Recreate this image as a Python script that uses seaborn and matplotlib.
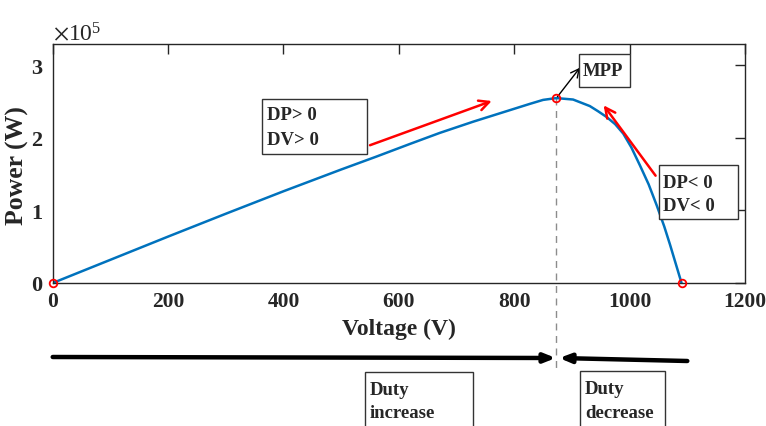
import matplotlib
matplotlib.use("Agg")
import matplotlib.pyplot as plt
from matplotlib.patches import Rectangle
from matplotlib.ticker import ScalarFormatter
import seaborn as sns

# P-V characteristic of the PV array
voltage = [0, 100, 200, 300, 400, 500, 560, 620, 671, 729, 787, 827, 850, 873,
           902, 931, 945, 960, 975, 989, 1003, 1018, 1033, 1047, 1060, 1070, 1090]
power = [0, 0.32e5, 0.64e5, 0.955e5, 1.265e5, 1.565e5, 1.74e5, 1.92e5, 2.07e5,
         2.225e5, 2.37e5, 2.47e5, 2.525e5, 2.55e5, 2.53e5, 2.44e5, 2.37e5,
         2.29e5, 2.19e5, 2.06e5, 1.87e5, 1.62e5, 1.36e5, 1.07e5, 0.78e5,
         0.53e5, 0]

# marked operating points: short circuit, maximum power point, open circuit
mark_v = [0, 873, 1090]
mark_p = [0, 2.55e5, 0]

x_ticks = [0, 200, 400, 600, 800, 1000, 1200]
y_ticks = [0, 1e5, 2e5, 3e5]

sns.set_theme(style="white")
serif = ["Liberation Serif", "DejaVu Serif"]
plt.rcParams["font.family"] = serif
plt.rcParams["mathtext.fontset"] = "stix"

W, H = 766, 427
fig = plt.figure(figsize=(W / 100, H / 100), dpi=100)
ax = fig.add_axes([52.7 / W, 1 - 284 / H, (745 - 52.7) / W, (284 - 44.7) / H])

sns.lineplot(x=voltage, y=power, ax=ax, color="#0072BD", linewidth=1.8,
             estimator=None, sort=False)
ax.plot(mark_v, mark_p, linestyle="none", marker="o", markersize=5.5,
        markerfacecolor="none", markeredgecolor="red", markeredgewidth=1.3,
        clip_on=False, zorder=5)

ax.set_xlim(0, 1200)
ax.set_ylim(0, 3.3e5)
ax.set_xticks(x_ticks)
ax.set_yticks(y_ticks)

fmt = ScalarFormatter(useMathText=True)
fmt.set_powerlimits((0, 0))
ax.yaxis.set_major_formatter(fmt)
ax.yaxis.get_offset_text().set_fontsize(17)
ax.yaxis.get_offset_text().set_x(0.0)

ax.tick_params(direction="in", length=7, width=1, top=True, right=True,
               color="#262626")
ax.tick_params(axis="x", labelsize=15.5, pad=6)
ax.tick_params(axis="y", labelsize=16, pad=7)
for lab in ax.get_xticklabels() + ax.get_yticklabels():
    lab.set_fontweight("bold")
for sp in ax.spines.values():
    sp.set_color("#262626")
    sp.set_linewidth(1.0)

ax.set_xlabel("Voltage (V)", fontsize=17, fontweight="bold", labelpad=5)
ax.set_ylabel("Power (W)", fontsize=18.5, fontweight="bold")
ax.yaxis.set_label_coords(-0.034, 0.493)


def fx(x):
    return x / W


def fy(y):
    return 1 - y / H


def text_box(x0, y0, x1, y1, lines, centers, tx):
    """Framed label in figure pixels (origin top-left)."""
    fig.add_artist(Rectangle((fx(x0), fy(y1)), fx(x1) - fx(x0), fy(y0) - fy(y1),
                             transform=fig.transFigure, facecolor="white",
                             edgecolor="#333333", linewidth=1.0, clip_on=False,
                             zorder=6))
    for s, cy in zip(lines, centers):
        fig.text(fx(tx), fy(cy), s, ha="left", va="center", fontsize=13.5,
                 fontweight="bold", zorder=7)


# tracking direction on the rising side
ax.annotate("", xy=(761, 2.51e5), xytext=(550, 1.90e5),
            arrowprops=dict(arrowstyle="->,head_length=0.6,head_width=0.3",
                            color="red", lw=1.8, shrinkA=0, shrinkB=0))
text_box(262, 100, 367, 155, ["DP> 0", "DV> 0"], [116, 141], 267)

# tracking direction on the falling side
ax.annotate("", xy=(955, 2.45e5), xytext=(1045, 1.48e5),
            arrowprops=dict(arrowstyle="->,head_length=0.6,head_width=0.3",
                            color="red", lw=1.8, shrinkA=0, shrinkB=0))
text_box(659, 166, 738, 220, ["DP< 0", "DV< 0"], [183, 207], 663)

# maximum power point
ax.annotate("", xy=(914, 2.97e5), xytext=(875, 2.57e5),
            arrowprops=dict(arrowstyle="->,head_length=0.5,head_width=0.25",
                            color="black", lw=1.0, shrinkA=0, shrinkB=0))
text_box(579, 55, 630, 88, ["MPP"], [71], 583)

# dashed guide from the MPP down to the duty-cycle arrows
ax.plot([873, 873], [2.55e5, -1.17e5], color="#8c8c8c", linestyle=(0, (5, 4)),
        linewidth=1.0, clip_on=False, zorder=1)

# duty-cycle direction arrows below the axis
arrow_kw = dict(arrowstyle="-|>,head_length=0.55,head_width=0.22",
                color="black", lw=3.2, shrinkA=0, shrinkB=0)
ax.annotate("", xy=(872, H - 359), xytext=(0, H - 358),
            xycoords=("data", "figure pixels"),
            textcoords=("data", "figure pixels"),
            annotation_clip=False, arrowprops=arrow_kw)
ax.annotate("", xy=(878, H - 359), xytext=(1100, H - 362),
            xycoords=("data", "figure pixels"),
            textcoords=("data", "figure pixels"),
            annotation_clip=False, arrowprops=arrow_kw)

text_box(365, 373, 473, 440, ["Duty", "increase"], [391, 414], 370)
text_box(580, 372, 665, 440, ["Duty", "decrease"], [390, 414], 585)

fig.savefig("out.png", dpi=100)
